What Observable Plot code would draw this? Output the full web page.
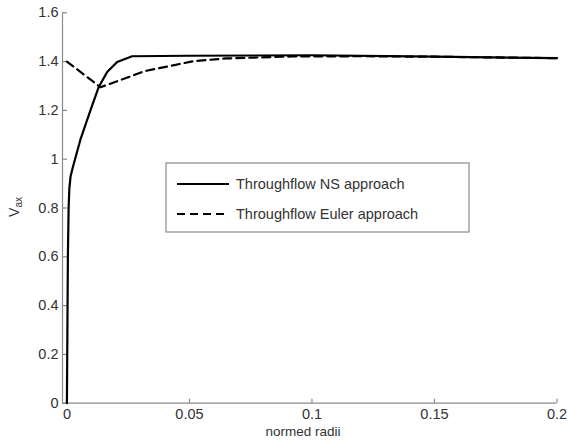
<!DOCTYPE html>
<html>
<head>
<meta charset="utf-8">
<script src="https://cdn.jsdelivr.net/npm/d3@7"></script>
<script src="https://cdn.jsdelivr.net/npm/@observablehq/plot@0.6"></script>
<style>
  html, body { margin: 0; padding: 0; background: #fff; }
  #chart svg { display: block; }
</style>
</head>
<body>
<div id="chart"></div>
<script>
// Throughflow NS approach (solid)
const nsX = [0, 0.0002, 0.0004, 0.0007, 0.001, 0.0015, 0.0025, 0.0055, 0.0096, 0.013, 0.0164, 0.0205, 0.0266, 0.05, 0.1, 0.15, 0.2];
const nsY = [0, 0.3, 0.6, 0.8, 0.88, 0.93, 0.97, 1.08, 1.2, 1.296, 1.357, 1.398, 1.422, 1.424, 1.426, 1.42, 1.414];
// Throughflow Euler approach (dashed)
const euX = [0, 0.0137, 0.027, 0.0313, 0.041, 0.0518, 0.065, 0.092, 0.12, 0.15, 0.2];
const euY = [1.40, 1.295, 1.343, 1.36, 1.38, 1.402, 1.413, 1.421, 1.422, 1.42, 1.414];

const xTicks = [0, 0.05, 0.1, 0.15, 0.2];
const xTickLabels = ["0", "0.05", "0.1", "0.15", "0.2"];
const yTicks = [0, 0.2, 0.4, 0.6, 0.8, 1, 1.2, 1.4, 1.6];
const yTickLabels = ["0", "0.2", "0.4", "0.6", "0.8", "1", "1.2", "1.4", "1.6"];
const seriesNames = ["Throughflow NS approach", "Throughflow Euler approach"];
const xLabel = "normed radii";

const W = 568, H = 441;
const mL = 62, mR = 11.5, mT = 12.3, mB = 38.3;
const frameW = W - mL - mR, frameH = H - mT - mB;

const xMin = -0.0018;
const ns = nsX.map((x, i) => ({x, y: nsY[i]}));
const eu = euX.map((x, i) => ({x, y: euY[i]}));

const axisColor = "#8a8a8a";
const textColor = "#333";

const plot = Plot.plot({
  width: W,
  height: H,
  marginLeft: mL,
  marginRight: mR,
  marginTop: mT,
  marginBottom: mB,
  style: {fontFamily: "'Liberation Sans', Arial, sans-serif", fontSize: "14px", color: textColor, background: "#fff"},
  x: {domain: [xMin, 0.2]},
  y: {domain: [0, 1.6]},
  marks: [
    Plot.ruleX([xMin], {stroke: axisColor, strokeWidth: 1.2}),
    Plot.ruleY([0], {stroke: axisColor, strokeWidth: 1.2}),
    // inward ticks
    Plot.tickX(xTicks, {x: d => d, stroke: axisColor, strokeWidth: 1.2, insetTop: frameH - 4}),
    Plot.tickY(yTicks, {y: d => d, stroke: axisColor, strokeWidth: 1.2, insetRight: frameW - 5}),
    Plot.axisX({ticks: xTicks, tickFormat: d => xTickLabels[xTicks.indexOf(d)], tickSize: 0, tickPadding: 6, label: null, fill: textColor, fontSize: 14.5}),
    Plot.axisY({ticks: yTicks, tickFormat: d => yTickLabels[yTicks.indexOf(d)], tickSize: 0, tickPadding: 4, label: null, fill: textColor, fontSize: 14.5}),
    Plot.line(eu, {x: "x", y: "y", stroke: "#000", strokeWidth: 2.2, strokeDasharray: "8,5"}),
    Plot.line(ns, {x: "x", y: "y", stroke: "#000", strokeWidth: 2.2})
  ]
});

document.getElementById("chart").appendChild(plot);

const svg = d3.select(plot);
// x label
svg.append("text")
  .attr("x", 303).attr("y", 436)
  .attr("text-anchor", "middle")
  .attr("font-size", 13.5).attr("fill", textColor)
  .text(xLabel);
// y label V_ax
const yl = svg.append("text")
  .attr("transform", "translate(19,207) rotate(-90)")
  .attr("text-anchor", "middle")
  .attr("font-size", 14).attr("fill", textColor);
yl.append("tspan").text("V");
yl.append("tspan").attr("font-size", 10).attr("dy", 3).text("ax");

// legend box
const lg = svg.append("g").attr("text-anchor", "start");
lg.append("rect")
  .attr("x", 166).attr("y", 163).attr("width", 303).attr("height", 69)
  .attr("fill", "#fff").attr("stroke", axisColor).attr("stroke-width", 1.2);
const items = [{dash: null, y: 184}, {dash: "8,5", y: 214}];
items.forEach((it, i) => {
  const l = lg.append("line")
    .attr("x1", 177).attr("x2", 229).attr("y1", it.y).attr("y2", it.y)
    .attr("stroke", "#000").attr("stroke-width", 2.2);
  if (it.dash) l.attr("stroke-dasharray", it.dash);
  lg.append("text")
    .attr("x", 236).attr("y", it.y).attr("dy", "0.36em")
    .attr("text-anchor", "start")
    .attr("font-size", 14.5).attr("fill", textColor)
    .text(seriesNames[i]);
});
</script>
</body>
</html>
